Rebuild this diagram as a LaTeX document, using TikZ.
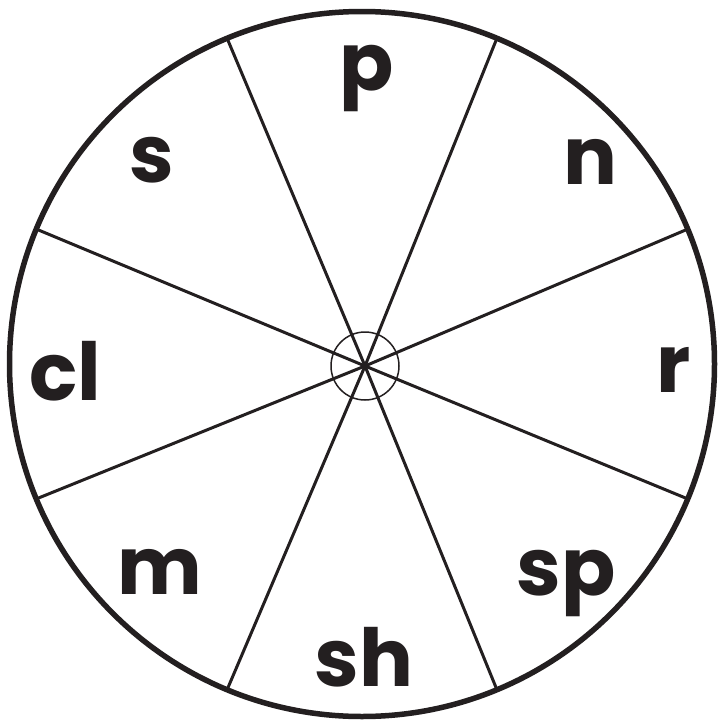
\documentclass[tikz,border=0pt]{standalone}
\usepackage{fontspec}
\setmainfont{Poppins}
\usetikzlibrary{calc}
\begin{document}
\begin{tikzpicture}[x=1pt,y=-1pt,
  rim/.style={line width=5.5pt, draw={rgb,255:red,35;green,31;blue,32}},
  spoke/.style={line width=3pt, draw={rgb,255:red,35;green,31;blue,32}},
  hubring/.style={circle, draw={rgb,255:red,35;green,31;blue,32}, line width=1.5pt, minimum size=68pt, inner sep=0pt},
  lbl/.style={anchor=base, inner sep=0pt, font=\fontsize{80}{80}\selectfont\bfseries, text={rgb,255:red,35;green,31;blue,32}}]
\useasboundingbox (0,0) rectangle (720,723);
\coordinate (c) at (362,364);
\draw[rim] (c) circle[radius=352.5];
\node[hubring] (hub) at (365,366) {};
\foreach \a [count=\i] in {22.5,67.5,112.5,157.5,202.5,247.5,292.5,337.5} {
  \coordinate (e\i) at ($(c)+(\a:352.5)$);
  \draw[spoke, line cap=round] (hub.center) -- (e\i);
}
\node[lbl] (lp) at (367,90) {p};
\node[lbl] (ln) at (590,184) {n};
\node[lbl] (lr) at (674,392) {r};
\node[lbl] (lsp) at (566,595) {sp};
\node[lbl] (lsh) at (364,686) {sh};
\node[lbl] (lm) at (160,594) {m};
\node[lbl] (lcl) at (65,400) {cl};
\node[lbl] (ls) at (152,182) {s};
\end{tikzpicture}
\end{document}
